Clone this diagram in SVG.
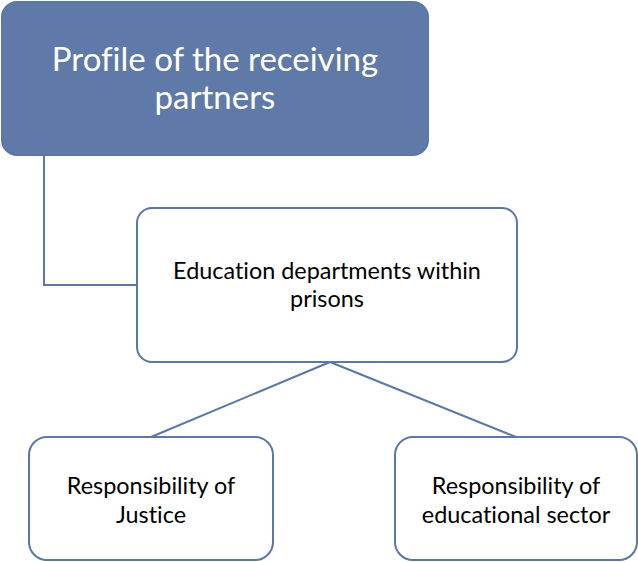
<svg xmlns="http://www.w3.org/2000/svg" width="638" height="562" viewBox="0 0 638 562">
<style>
.box{fill:#fff;stroke:#5b77a8;stroke-width:2}
.top{fill:#5f7aa8;stroke:#5b77a8;stroke-width:2}
.t{font-family:Lato,"Open Sans",sans-serif;text-anchor:middle;fill:#000;font-size:23.4px;font-variant-ligatures:none}
.tw{font-family:Lato,"Open Sans",sans-serif;text-anchor:middle;fill:#fff;font-size:33px;font-variant-ligatures:none}
.c{fill:none;stroke:#5b77a8;stroke-width:2}
</style>
<rect width="638" height="562" fill="#fff"/>
<g id="connectors">
<polyline class="c" points="44,155 44,285 137,285"/>
<line class="c" x1="330" y1="362" x2="151" y2="437"/>
<line class="c" x1="330" y1="362" x2="516" y2="437"/>
</g>
<g id="profile">
<rect class="top" x="2" y="2" width="426" height="153" rx="15"/>
<text class="tw" x="215" y="71">Profile of the receiving</text>
<text class="tw" x="215" y="109">partners</text>
</g>
<g id="education">
<rect class="box" x="137" y="208" width="380" height="154" rx="15"/>
<text class="t" x="327" y="279">Education departments within</text>
<text class="t" x="327" y="307">prisons</text>
</g>
<g id="justice">
<rect class="box" x="29" y="437" width="244" height="123" rx="18"/>
<text class="t" x="151" y="494">Responsibility of</text>
<text class="t" x="151" y="523">Justice</text>
</g>
<g id="educational">
<rect class="box" x="395" y="437" width="242" height="123" rx="18"/>
<text class="t" x="516" y="494">Responsibility of</text>
<text class="t" x="516" y="523">educational sector</text>
</g>
</svg>
